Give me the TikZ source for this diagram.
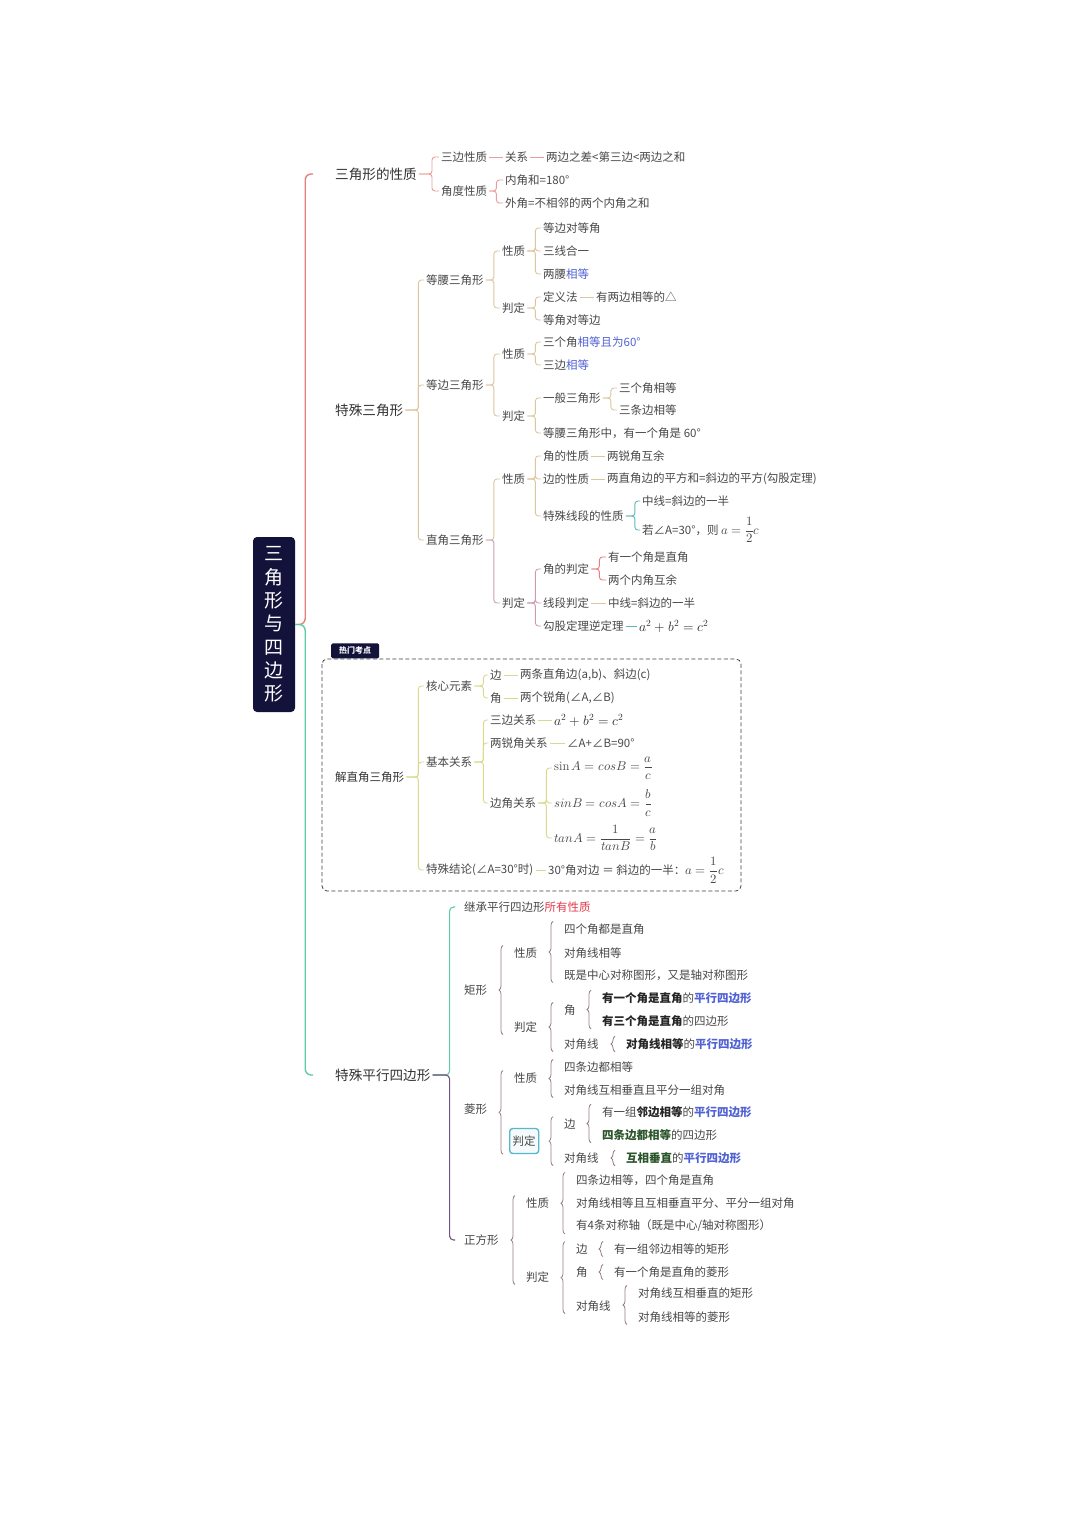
\documentclass[tikz,border=0pt]{standalone}
\usepackage{amsmath}
\usepackage{fontspec}
\usepackage{unicode-math}
\newfontfamily\cjk{Noto Sans CJK SC}
\usetikzlibrary{calc,decorations.pathreplacing}
\definecolor{rootnavy}{RGB}{18,18,58}
\definecolor{txtgray}{RGB}{72,72,72}
\definecolor{hlblue}{RGB}{80,98,212}
\definecolor{hlred}{RGB}{226,58,76}
\definecolor{hlgreen}{RGB}{42,84,42}
\definecolor{mainred}{RGB}{228,128,128}
\definecolor{maingreen}{RGB}{96,204,164}
\definecolor{redline}{RGB}{234,156,156}
\definecolor{tanline}{RGB}{220,198,158}
\definecolor{mauveline}{RGB}{204,156,180}
\definecolor{tealline}{RGB}{92,186,184}
\definecolor{yelline}{RGB}{216,218,140}
\definecolor{purpline}{RGB}{112,84,132}
\definecolor{braceline}{RGB}{150,126,136}
\definecolor{boxteal}{RGB}{86,184,200}

\newcommand{\blu}[1]{\textcolor{hlblue}{#1}}
\newcommand{\blb}[1]{{\bfseries\color{hlblue}#1}}
\newcommand{\bdk}[1]{{\bfseries\color{black!85}#1}}
\newcommand{\bdg}[1]{{\bfseries\color{hlgreen}#1}}
\newcommand{\fml}[1]{{\fontsize{12.8}{14}\selectfont$#1$}}
% curly brace in front of a group of nodes (first, last)
\newcommand{\cbr}[3][9pt]{\draw[cbrace] ([xshift=-#1]#2.north west |- #3.south west) -- ([xshift=-#1]#2.north west);}

\begin{document}
\begin{tikzpicture}[x=1pt, y=-1pt,
    every node/.style={anchor=west, inner sep=2pt, text=txtgray, font=\cjk\fontsize{11.5}{13}\selectfont},
    lvone/.style={font=\cjk\fontsize{13.6}{15}\selectfont, text=black!80},
    rootbox/.style={anchor=center, fill=rootnavy, rounded corners=4pt, minimum width=42pt, minimum height=175pt,
        text=white, align=center, font=\cjk\fontsize{19}{23.3}\selectfont},
    mathbig/.style={font=\fontsize{13.5}{15}\selectfont, text=black!80},
    pdbox/.style={draw=boxteal, line width=1.4pt, rounded corners=3pt, fill=boxteal!6, inner xsep=3pt, minimum height=25pt},
    link/.style={line width=0.9pt, rounded corners=3pt},
    mainbrk/.style={line width=1.4pt, rounded corners=6pt},
    cbrace/.style={line width=0.8pt, braceline, decorate, decoration={brace, amplitude=4pt}},
]
\fill[white] (0,0) rectangle (1080,1527);
\useasboundingbox (0,0) rectangle (1080,1527);

% root
\node[rootbox] (root) at (274,624.5) {三\\角\\形\\与\\四\\边\\形};

% first level
\node[lvone] (sjxz) at (333,174) {三角形的性质};
\node[lvone] (tssj) at (333,410) {特殊三角形};
\node[text=black!80] (jzj) at (333,777) {解直角三角形};
\node[lvone] (tspx) at (333,1075) {特殊平行四边形};
\draw[mainbrk, mainred] (root.east) -- ++(10,0) |- ([xshift=-20pt]sjxz.west);
\draw[mainbrk, maingreen] (root.east) -- ++(10,0) |- ([xshift=-20pt]tspx.west);

% triangle properties
\node (sbxz) at (439,157) {三边性质};
\node (gx) at (503,157) {关系};
\node (lbzc) at (544,157) {两边之差<第三边<两边之和};
\node (jdxz) at (439,191) {角度性质};
\node (njh) at (503,180) {内角和=180°};
\node (wj) at (503,203) {外角=不相邻的两个内角之和};
\foreach \c in {sbxz,jdxz} \draw[link,redline] (sjxz.east) -- ++(13,0) |- (\c.west);
\draw[link,redline] (sbxz) -- (gx);
\draw[link,redline] (gx) -- (lbzc);
\foreach \c in {njh,wj} \draw[link,redline] (jdxz.east) -- ++(7,0) |- (\c.west);

% special triangles
\node (dy) at (424,280) {等腰三角形};
\node (db) at (424,385) {等边三角形};
\node (zj) at (424,540) {直角三角形};
\foreach \c in {dy,db,zj} \draw[link,tanline] (tssj.east) -- ++(13,0) |- (\c.west);

% isosceles
\node (dyxz) at (500,251) {性质};
\node (dypd) at (500,308) {判定};
\foreach \c in {dyxz,dypd} \draw[link,tanline] (dy.east) -- ++(8,0) |- (\c.west);
\node (dy1) at (541,228) {等边对等角};
\node (dy2) at (541,251) {三线合一};
\node (dy3) at (541,274) {两腰\blu{相等}};
\foreach \c in {dy1,dy2,dy3} \draw[link,tanline] (dyxz.east) -- ++(8,0) |- (\c.west);
\node (dyf) at (541,297) {定义法};
\node (dyf1) at (594,297) {有两边相等的△};
\node (dy4) at (541,320) {等角对等边};
\foreach \c in {dyf,dy4} \draw[link,tanline] (dypd.east) -- ++(8,0) |- (\c.west);
\draw[link,tanline] (dyf) -- (dyf1);

% equilateral
\node (dbxz) at (500,354) {性质};
\node (dbpd) at (500,416) {判定};
\foreach \c in {dbxz,dbpd} \draw[link,tanline] (db.east) -- ++(8,0) |- (\c.west);
\node (db1) at (541,342) {三个角\blu{相等且为\textit{60°}}};
\node (db2) at (541,365) {三边\blu{相等}};
\foreach \c in {db1,db2} \draw[link,tanline] (dbxz.east) -- ++(8,0) |- (\c.west);
\node (ybsj) at (541,398) {一般三角形};
\node (yb1) at (617,388) {三个角相等};
\node (yb2) at (617,410) {三条边相等};
\node (db3) at (541,433) {等腰三角形中，有一个角是 60°};
\foreach \c in {ybsj,db3} \draw[link,tanline] (dbpd.east) -- ++(8,0) |- (\c.west);
\foreach \c in {yb1,yb2} \draw[link,tanline] (ybsj.east) -- ++(8,0) |- (\c.west);

% right triangle
\node (zjxz) at (500,479) {性质};
\node (zjpd) at (500,603) {判定};
\draw[link,tanline] (zj.east) -- ++(8,0) |- (zjxz.west);
\draw[link,mauveline] (zj.east) -- ++(8,0) |- (zjpd.west);
\node (jdx) at (541,456) {角的性质};
\node (jdx1) at (605,456) {两锐角互余};
\node (bdx) at (541,479) {边的性质};
\node (bdx1) at (605,479) {两直角边的平方和=斜边的平方(勾股定理)};
\node (tsxd) at (541,516) {特殊线段的性质};
\node (tsxd1) at (640,501) {中线=斜边的一半};
\node (tsxd2) at (640,530) {若∠A=30°，则 \fml{a=\dfrac{1}{2}c}};
\foreach \c in {jdx,bdx,tsxd} \draw[link,tanline] (zjxz.east) -- ++(8,0) |- (\c.west);
\draw[link,tanline] (jdx) -- (jdx1);
\draw[link,tanline] (bdx) -- (bdx1);
\foreach \c in {tsxd1,tsxd2} \draw[link,tealline] (tsxd.east) -- ++(9,0) |- (\c.west);
\node (jpd) at (541,569) {角的判定};
\node (jpd1) at (606,557) {有一个角是直角};
\node (jpd2) at (606,580) {两个内角互余};
\node (xpd) at (541,603) {线段判定};
\node (xpd1) at (606,603) {中线=斜边的一半};
\node (ggn) at (541,626) {勾股定理逆定理};
\node[mathbig] (ggn1) at (637,626) {$a^2+b^2=c^2$};
\foreach \c in {jpd,xpd,ggn} \draw[link,mauveline] (zjpd.east) -- ++(8,0) |- (\c.west);
\foreach \c in {jpd1,jpd2} \draw[link,mainred] (jpd.east) -- ++(8,0) |- (\c.west);
\draw[link,tanline] (xpd) -- (xpd1);
\draw[link,tealline] (ggn) -- (ggn1);

% hot topic box
\draw[black!75, line width=0.8pt, dash pattern=on 4pt off 2.5pt, rounded corners=5pt] (322,659) rectangle (741,891);
\node[anchor=south west, fill=rootnavy, text=white, rounded corners=1.5pt, minimum width=48pt, minimum height=15pt,
    inner sep=1pt, font=\cjk\bfseries\fontsize{8}{9}\selectfont] (tag) at (331,658.5) {热门考点};

% solving right triangles
\node (hxys) at (424,686) {核心元素};
\node (jbgx) at (424,762) {基本关系};
\node (tsjl) at (424,870) {特殊结论(∠A=30°时)};
\foreach \c in {hxys,jbgx,tsjl} \draw[link,yelline] (jzj.east) -- ++(12,0) |- (\c.west);
\node (bian) at (488,675) {边};
\node (bian1) at (518,675) {两条直角边(a,b)、斜边(c)};
\node (jiao) at (488,698) {角};
\node (jiao1) at (518,698) {两个锐角(∠A,∠B)};
\foreach \c in {bian,jiao} \draw[link,yelline] (hxys.east) -- ++(9,0) |- (\c.west);
\draw[link,yelline] (bian) -- (bian1);
\draw[link,yelline] (jiao) -- (jiao1);
\node (sbgx) at (488,720) {三边关系};
\node[mathbig] (sbgx1) at (552,720) {$a^2+b^2=c^2$};
\node (lrj) at (488,743) {两锐角关系};
\node (lrj1) at (565,743) {∠A+∠B=90°};
\node (bjgx) at (488,803) {边角关系};
\foreach \c in {sbgx,lrj,bjgx} \draw[link,yelline] (jbgx.east) -- ++(9,0) |- (\c.west);
\draw[link,yelline] (sbgx) -- (sbgx1);
\draw[link,yelline] (lrj) -- (lrj1);
\node (bj1) at (552,768) {\fml{\sin A=cos B=\dfrac{a}{c}}};
\node (bj2) at (552,803) {\fml{sin B=cos A=\dfrac{b}{c}}};
\node (bj3) at (552,838) {\fml{tan A=\dfrac{1}{tan B}=\dfrac{a}{b}}};
\foreach \c in {bj1,bj2,bj3} \draw[link,yelline] (bjgx.east) -- ++(8,0) |- (\c.west);
\node (tsjl1) at (546,870) {30°角对边 ＝ 斜边的一半：\fml{a=\dfrac{1}{2}c}};
\draw[link,yelline] (tsjl) -- (tsjl1);

% special parallelograms
\node (jc) at (462,907) {继承平行四边形\textcolor{hlred}{所有性质}};
\node (jx) at (462,990) {矩形};
\node (lx) at (462,1109) {菱形};
\node (zfx) at (462,1240) {正方形};
\draw[mainbrk, maingreen, line width=1.1pt, rounded corners=4pt] (tspx.east) -- ++(17,0) |- ([xshift=-7pt]jc.west);
\draw[mainbrk, purpline, line width=1.1pt, rounded corners=4pt] (tspx.east) -- ++(17,0) |- ([xshift=-7pt]zfx.west);

% rectangle
\node (jxxz) at (512,953) {性质};
\node (jxpd) at (512,1027) {判定};
\node (jx1) at (562,929) {四个角都是直角};
\node (jx2) at (562,953) {对角线相等};
\node (jx3) at (562,975) {既是中心对称图形，又是轴对称图形};
\node (jxj) at (562,1010) {角};
\node (jxj1) at (600,998) {\bdk{有一个角是直角}的\blb{平行四边形}};
\node (jxj2) at (600,1021) {\bdk{有三个角是直角}的四边形};
\node (jxd) at (562,1044) {对角线};
\node (jxd1) at (624,1044) {\bdk{对角线相等}的\blb{平行四边形}};
\cbr{jxxz}{jxpd}
\cbr{jx1}{jx3}
\cbr{jxj}{jxd}
\cbr{jxj1}{jxj2}
\cbr{jxd1}{jxd1}

% rhombus
\node (lxxz) at (512,1078) {性质};
\node[pdbox] (lxpd) at (509,1141) {判定};
\node (lx1) at (562,1067) {四条边都相等};
\node (lx2) at (562,1090) {对角线互相垂直且平分一组对角};
\node (lxb) at (562,1124) {边};
\node (lxb1) at (600,1112) {有一组\bdk{邻边相等}的\blb{平行四边形}};
\node (lxb2) at (600,1135) {\bdg{四条边都相等}的四边形};
\node (lxd) at (562,1158) {对角线};
\node (lxd1) at (624,1158) {\bdg{互相垂直}的\blb{平行四边形}};
\cbr{lxxz}{lxpd}
\cbr{lx1}{lx2}
\cbr{lxb}{lxd}
\cbr{lxb1}{lxb2}
\cbr{lxd1}{lxd1}

% square
\node (zfxz) at (524,1203) {性质};
\node (zfpd) at (524,1277) {判定};
\node (zf1) at (574,1180) {四条边相等，四个角是直角};
\node (zf2) at (574,1203) {对角线相等且互相垂直平分、平分一组对角};
\node (zf3) at (574,1226) {有4条对称轴（既是中心/轴对称图形）};
\node (zfb) at (574,1249) {边};
\node (zfb1) at (612,1249) {有一组邻边相等的矩形};
\node (zfj) at (574,1272) {角};
\node (zfj1) at (612,1272) {有一个角是直角的菱形};
\node (zfd) at (574,1306) {对角线};
\node (zfd1) at (636,1293) {对角线互相垂直的矩形};
\node (zfd2) at (636,1317) {对角线相等的菱形};
\cbr{zfxz}{zfpd}
\cbr{zf1}{zf3}
\cbr{zfb}{zfd}
\cbr{zfb1}{zfb1}
\cbr{zfj1}{zfj1}
\cbr{zfd1}{zfd2}
\end{tikzpicture}
\end{document}
